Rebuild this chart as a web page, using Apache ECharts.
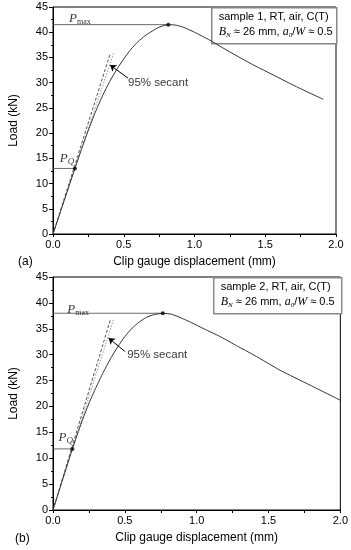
<!DOCTYPE html>
<html><head><meta charset="utf-8">
<script src="https://cdn.jsdelivr.net/npm/echarts@6/dist/echarts.min.js"></script>
<style>html,body{margin:0;padding:0;background:#fff}#c{width:351px;height:550px}</style>
</head><body><div id="c"></div>
<script>
// ---- data ----
const xTicks = ['0.0', '0.5', '1.0', '1.5', '2.0'];
const yTicks = [0, 5, 10, 15, 20, 25, 30, 35, 40, 45];

const s1Disp = [0, 0.155, 0.20, 0.25, 0.30, 0.35, 0.40, 0.45, 0.50, 0.55, 0.60, 0.65, 0.70, 0.75, 0.815, 0.87, 0.92, 1.0, 1.11, 1.20, 1.30, 1.41, 1.53, 1.72, 1.91];
const s1Load = [0, 13.0, 16.7, 20.6, 24.2, 27.4, 30.2, 32.6, 34.7, 36.6, 38.1, 39.3, 40.2, 41.0, 41.5, 41.4, 41.0, 40.0, 38.4, 36.9, 35.3, 33.6, 31.9, 29.2, 26.7];
const s1PQ = [0.155, 13.0];
const s1Pmax = [0.815, 41.5];
const s1Elastic = [0.405, 35.8];   // end of dashed initial-slope line
const s1Secant = [0.428, 35.8];    // end of dotted 95% secant line

const s2Disp = [0, 0.135, 0.20, 0.25, 0.30, 0.35, 0.40, 0.45, 0.50, 0.55, 0.60, 0.65, 0.70, 0.764, 0.826, 0.90, 0.963, 1.05, 1.17, 1.28, 1.40, 1.58, 1.79, 2.0];
const s2Load = [0, 11.8, 17.0, 20.6, 23.7, 26.6, 29.2, 31.5, 33.5, 35.1, 36.3, 37.2, 37.7, 38.0, 37.8, 37.0, 36.2, 35.0, 33.4, 31.7, 29.9, 27.0, 24.1, 21.2];
const s2PQ = [0.135, 11.8];
const s2Pmax = [0.764, 38.0];
const s2Elastic = [0.400, 36.8];
const s2Secant = [0.421, 36.8];

// annotation anchors (data coordinates)
const ann1 = {pmax: [0.19, 42.7], pq: [0.099, 14.9], sec: [0.53, 30.0], arrowFrom: [0.53, 30.9], arrowTo: [0.403, 33.5]};
const ann2 = {pmax: [0.175, 38.8], pq: [0.089, 13.9], sec: [0.516, 29.9], arrowFrom: [0.502, 30.6], arrowTo: [0.387, 33.2]};

const samples = ['sample 1, RT, air, C(T)', 'sample 2, RT, air, C(T)'];
const panels = ['(a)', '(b)'];

// ---- chart ----
const SANS = 'Liberation Sans, Arial, sans-serif';
const SERIF = 'Liberation Serif, Times New Roman, serif';
const chart = echarts.init(document.getElementById('c'), null, {renderer: 'canvas'});

const grids = [
  {left: 53, right: 15, top: 7, height: 227},
  {left: 50, right: 10, top: 277, height: 233}
];

function xAxis(i) {
  return {
    type: 'value', gridIndex: i, min: 0, max: 2, interval: 0.5,
    name: 'Clip gauge displacement (mm)', nameLocation: 'middle', nameGap: 22,
    nameTextStyle: {fontFamily: SANS, fontSize: 12, color: '#000'},
    axisLine: {show: true, onZero: false, lineStyle: {color: '#000', width: 1}},
    axisTick: {show: true, inside: false, length: 3, lineStyle: {color: '#000'}},
    minorTick: {show: true, splitNumber: 2, length: 3, lineStyle: {color: '#000'}},
    splitLine: {show: false},
    axisLabel: {fontFamily: SANS, fontSize: 11, color: '#000', margin: 5,
      formatter: v => xTicks[Math.round(v / 0.5)]}
  };
}
function yAxis(i) {
  return {
    type: 'value', gridIndex: i, min: yTicks[0], max: yTicks[yTicks.length - 1], interval: 5,
    name: 'Load (kN)', nameLocation: 'middle', nameGap: 33,
    nameTextStyle: {fontFamily: SANS, fontSize: 12, color: '#000'},
    axisLine: {show: true, onZero: false, lineStyle: {color: '#000', width: 1}},
    axisTick: {show: true, inside: false, length: 4, lineStyle: {color: '#000'}},
    minorTick: {show: true, splitNumber: 2, length: 2, lineStyle: {color: '#000'}},
    splitLine: {show: false},
    axisLabel: {fontFamily: SANS, fontSize: 11, color: '#000', margin: 5}
  };
}

const richP = {
  p: {fontFamily: SERIF, fontStyle: 'italic', fontSize: 13, color: '#000', lineHeight: 15},
  s: {fontFamily: SERIF, fontSize: 8, color: '#000', verticalAlign: 'bottom', lineHeight: 10},
  si: {fontFamily: SERIF, fontStyle: 'italic', fontSize: 9, color: '#000', verticalAlign: 'bottom', lineHeight: 10}
};

function panelSeries(i, disp, load, pq, pmax, el, sec, ann) {
  const ax = {xAxisIndex: i, yAxisIndex: i};
  return [
    Object.assign({type: 'line', data: disp.map((d, k) => [d, load[k]]), showSymbol: false, smooth: 0.2,
      lineStyle: {color: '#333', width: 1}, z: 3}, ax),
    Object.assign({type: 'line', data: [[0, 0], el], showSymbol: false,
      lineStyle: {color: '#222', width: 0.8, type: [3, 2]}, z: 2}, ax),
    Object.assign({type: 'line', data: [[0, 0], sec], showSymbol: false,
      lineStyle: {color: '#999', width: 1, type: [1.5, 1.5]}, z: 2}, ax),
    Object.assign({type: 'line', data: [[0, pmax[1]], pmax], showSymbol: false,
      lineStyle: {color: '#444', width: 0.8}, z: 2}, ax),
    Object.assign({type: 'line', data: [[0, pq[1]], pq], showSymbol: false,
      lineStyle: {color: '#444', width: 0.8}, z: 2}, ax),
    Object.assign({type: 'scatter', data: [pq, pmax], symbolSize: 4, itemStyle: {color: '#000'}, z: 4}, ax),
    Object.assign({type: 'scatter', symbolSize: 0, silent: true, z: 5,
      data: [
        {value: ann.pmax, label: {show: true, position: 'inside', formatter: '{p|P}{s|max}', rich: richP}},
        {value: ann.pq, label: {show: true, position: 'inside', formatter: '{p|P}{si|Q}', rich: richP}},
        {value: ann.sec, label: {show: true, position: 'right', distance: 0, formatter: '95% secant',
          fontFamily: SANS, fontSize: 11.5, color: '#000'}}
      ]}, ax),
    Object.assign({type: 'lines', coordinateSystem: 'cartesian2d', symbol: ['none', 'arrow'], symbolSize: 6,
      lineStyle: {color: '#000', width: 1, opacity: 1}, z: 5,
      data: [{coords: [ann.arrowFrom, ann.arrowTo]}]}, ax)
  ];
}

function legendBox(x, y, w, h, title) {
  return {
    type: 'group', left: x, top: y, z: 100,
    children: [
      {type: 'rect', shape: {x: 0, y: 0, width: w, height: h},
        style: {fill: '#fff', stroke: '#888', lineWidth: 1.5}},
      {type: 'text', x: 7, y: 4, style: {text: title, font: '11px ' + SANS, fill: '#000'}},
      {type: 'text', x: 7, y: 17, style: {
        text: '{i|B}{is|N}{t| ≈ 26 mm, }{i|a}{is|0}{t|/}{i|W}{t| ≈ 0.5}',
        rich: {
          i: {fontFamily: SERIF, fontStyle: 'italic', fontSize: 12, fill: '#000', lineHeight: 14},
          is: {fontFamily: SERIF, fontStyle: 'italic', fontSize: 7, fill: '#000', verticalAlign: 'bottom', lineHeight: 9},
          t: {fontFamily: SANS, fontSize: 11, fill: '#000', lineHeight: 14}
        }}}
    ]
  };
}

chart.setOption({
  animation: false,
  backgroundColor: '#fff',
  grid: grids.map(g => Object.assign({show: true, borderColor: '#000', borderWidth: 1, backgroundColor: 'transparent'}, g)),
  xAxis: [xAxis(0), xAxis(1)],
  yAxis: [yAxis(0), yAxis(1)],
  series: [].concat(
    panelSeries(0, s1Disp, s1Load, s1PQ, s1Pmax, s1Elastic, s1Secant, ann1),
    panelSeries(1, s2Disp, s2Load, s2PQ, s2Pmax, s2Elastic, s2Secant, ann2)
  ),
  graphic: [
    legendBox(211, 7, 125, 36, samples[0]),
    legendBox(213, 277, 128, 36, samples[1]),
    {type: 'text', left: 18, top: 256, style: {text: panels[0], font: '12px ' + SANS, fill: '#000'}},
    {type: 'text', left: 15, top: 533, style: {text: panels[1], font: '12px ' + SANS, fill: '#000'}}
  ]
});
</script></body></html>
